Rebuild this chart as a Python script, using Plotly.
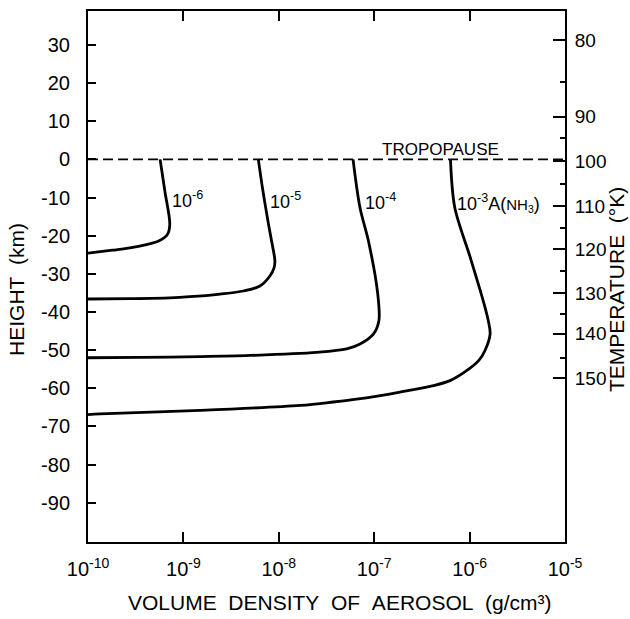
import plotly.graph_objects as go

# ---- data ----
# height (km) vs volume density of aerosol (g/cm^3) for four curves
h_1e6 = [0, -8.4, -17.0, -19.7, -21.4, -22.4, -23.2, -23.8, -24.6]
d_1e6 = [5.7e-10, 6.4e-10, 7.2e-10, 6.8e-10, 5.5e-10, 4.0e-10, 2.75e-10, 1.8e-10, 1.0e-10]

h_1e5 = [0, -8.1, -17.0, -21.4, -26.6, -28.5, -30.5, -33.2, -34.5, -35.3, -36.0, -36.3, -36.5, -36.6]
d_1e5 = [6.1e-9, 6.8e-9, 7.8e-9, 8.4e-9, 9.1e-9, 8.9e-9, 8.1e-9, 6.35e-9, 4.25e-9, 2.42e-9, 1.17e-9, 7.2e-10, 2.75e-10, 1.0e-10]

h_1e4 = [0, -12.7, -21.4, -34.5, -42.3, -45.8, -48.4, -49.7, -50.6, -51.4, -51.7, -51.9, -52.0]
d_1e4 = [6.0e-8, 7.1e-8, 8.7e-8, 1.08e-7, 1.12e-7, 9.8e-8, 7.1e-8, 5.15e-8, 2.5e-8, 5.0e-9, 1.5e-9, 3.5e-10, 1.0e-10]

h_1e3 = [0, -12.7, -25.5, -37.1, -42.3, -45.8, -50.1, -52.7, -55.4, -58.0, -59.3, -61.0, -62.5, -63.6, -64.5, -65.8, -66.7, -66.9]
d_1e3 = [6.3e-7, 7.0e-7, 1.01e-6, 1.39e-6, 1.57e-6, 1.64e-6, 1.45e-6, 1.25e-6, 9.3e-7, 6.24e-7, 4.17e-7, 1.86e-7, 8.3e-8, 3.72e-8, 1.67e-8, 1.5e-9, 1.34e-10, 1.0e-10]

curve_labels = ["10<sup>-6</sup>", "10<sup>-5</sup>", "10<sup>-4</sup>",
                "10<sup>-3</sup>A(<span style='font-size:15px'>NH<sub>3</sub></span>)"]

height_ticks = [30, 20, 10, 0, -10, -20, -30, -40, -50, -60, -70, -80, -90]
x_tickvals = [1e-10, 1e-9, 1e-8, 1e-7, 1e-6, 1e-5]
x_ticktext = ["10<sup>-10</sup>", "10<sup>-9</sup>", "10<sup>-8</sup>",
              "10<sup>-7</sup>", "10<sup>-6</sup>", "10<sup>-5</sup>"]

temp_labels = [80, 90, 100, 110, 120, 130, 140, 150]
temp_heights = [31.3, 11.2, -0.4, -12.3, -23.5, -35.0, -45.7, -57.4]
temp_minor_heights = [20.2, 5.5, -6.5, -18.0, -29.2, -40.5, -52.0]  # 85,95,...,145 K

tropopause_height = 0

# ---- figure ----
fig = go.Figure()
for d, h in [(d_1e6, h_1e6), (d_1e5, h_1e5), (d_1e4, h_1e4), (d_1e3, h_1e3)]:
    fig.add_trace(go.Scatter(x=d, y=h, mode="lines",
                             line=dict(color="black", width=2.8, shape="spline", smoothing=0.9),
                             showlegend=False, hoverinfo="skip"))

# invisible trace for right axis
fig.add_trace(go.Scatter(x=[x_tickvals[0]], y=[tropopause_height], yaxis="y2",
                         mode="markers", marker=dict(opacity=0), showlegend=False, hoverinfo="skip"))

fig.add_shape(type="line", xref="paper", x0=0, x1=1, yref="y",
              y0=tropopause_height, y1=tropopause_height,
              line=dict(color="black", width=1.6, dash="10px,5px"))

font_main = "Liberation Sans, Arial, sans-serif"
yr = [-100.3, 38.9]

fig.update_layout(
    width=630, height=619,
    margin=dict(l=88, r=65, t=9, b=77),
    paper_bgcolor="white", plot_bgcolor="white",
    font=dict(family=font_main, color="black"),
    xaxis=dict(type="log", range=[-10, -5], tickmode="array",
               tickvals=x_tickvals, ticktext=x_ticktext,
               ticks="inside", ticklen=10, tickwidth=1.6, tickcolor="black",
               showline=True, linewidth=2, linecolor="black", mirror="ticks",
               showgrid=False, zeroline=False,
               tickfont=dict(size=20, family=font_main), ticklabelstandoff=8),
    yaxis=dict(range=yr, tickmode="array", tickvals=height_ticks,
               ticktext=[str(v) for v in height_ticks],
               ticks="inside", ticklen=8, tickwidth=1.6, tickcolor="black",
               showline=True, linewidth=2, linecolor="black",
               showgrid=False, zeroline=False,
               tickfont=dict(size=20, family=font_main),
               ticklabelstandoff=12),
    yaxis2=dict(range=yr, overlaying="y", side="right", tickmode="array",
                tickvals=temp_heights, ticktext=[str(t) for t in temp_labels],
                ticks="inside", ticklen=12, tickwidth=1.6, tickcolor="black",
                minor=dict(tickmode="array", tickvals=temp_minor_heights,
                           ticks="inside", ticklen=5, tickwidth=1.6, tickcolor="black"),
                showline=True, linewidth=2, linecolor="black",
                showgrid=False, zeroline=False,
                tickfont=dict(size=19, family=font_main), ticklabelstandoff=4),
)

ann = []
label_pos = [(-9.14, -10.5), (-8.113, -10.7), (-7.117, -11.0), (-6.157, -11.5)]
for txt, (lx, ly) in zip(curve_labels, label_pos):
    ann.append(dict(x=lx, y=ly, xref="x", yref="y", text=txt, showarrow=False,
                    xanchor="left", yanchor="middle",
                    font=dict(size=18, family=font_main)))
ann.append(dict(x=-6.31, y=2.6, xref="x", yref="y", text="TROPOPAUSE", showarrow=False,
                xanchor="center", yanchor="middle",
                font=dict(size=17, family=font_main)))
ann.append(dict(x=-0.149, y=0.4765, xref="paper", yref="paper", text="HEIGHT\u00a0\u00a0(km)",
                textangle=-90, showarrow=False, xanchor="center", yanchor="middle",
                font=dict(size=21, family=font_main)))
ann.append(dict(x=1.109, y=0.4765, xref="paper", yref="paper", text="TEMPERATURE\u00a0\u00a0(°K)",
                textangle=-90, showarrow=False, xanchor="center", yanchor="middle",
                font=dict(size=21, family=font_main)))
ann.append(dict(x=0.528, y=-0.1144, xref="paper", yref="paper",
                text="VOLUME\u00a0\u00a0DENSITY\u00a0\u00a0OF\u00a0\u00a0AEROSOL\u00a0\u00a0(g/cm³)",
                showarrow=False, xanchor="center", yanchor="middle",
                font=dict(size=21, family=font_main)))
fig.update_layout(annotations=ann)

fig.write_html("out.html")
